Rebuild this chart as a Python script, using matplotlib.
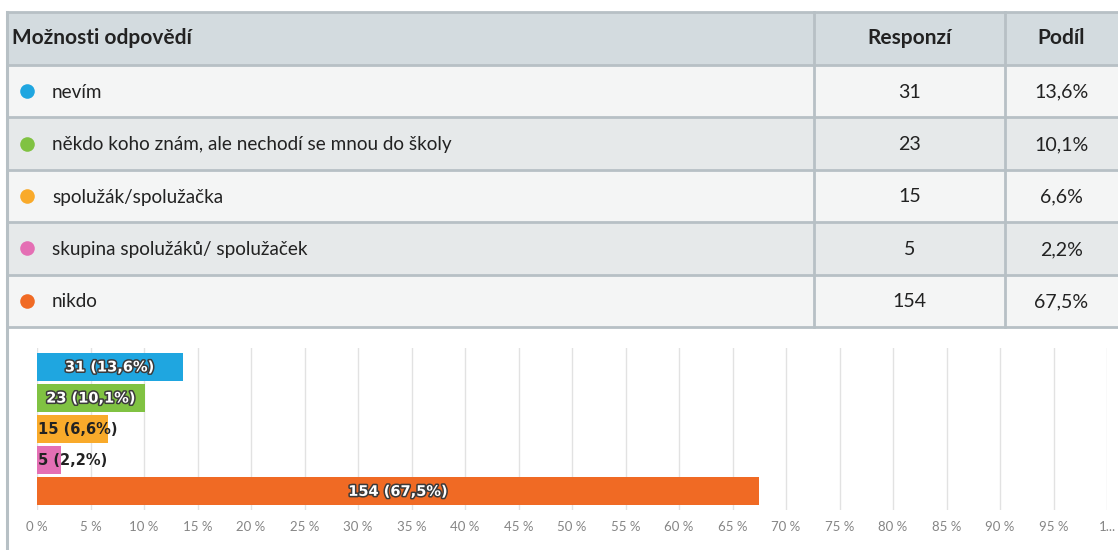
import matplotlib.pyplot as plt
import matplotlib.patheffects as pe
import numpy as np

# Survey data
options = ['nevím', 'někdo koho znám, ale nechodí se mnou do školy',
           'spolužák/spolužačka', 'skupina spolužáků/ spolužaček', 'nikdo']
counts = [31, 23, 15, 5, 154]
shares = [13.6, 10.1, 6.6, 2.2, 67.5]
colors = ['#1fa6e0', '#80c242', '#f9aa2a', '#e46fb4', '#f06a24']
headers = ['Možnosti odpovědí', 'Responzí', 'Podíl']

W, H = 1118, 550
table_font = ['Lato', 'DejaVu Sans']

fig = plt.figure(figsize=(W / 100, H / 100), dpi=100)
fig.patch.set_facecolor('white')

# background axes in pixel coordinates for the table
bg = fig.add_axes([0, 0, 1, 1])
bg.set_xlim(0, W)
bg.set_ylim(H, 0)
bg.axis('off')

left, top = 7, 12
head_h, row_h = 53, 52.4
col1, col2 = 814, 1005
border = '#b7c0c5'

bg.add_patch(plt.Rectangle((left, top), W - left, head_h, color='#d3dbdf', lw=0))
for i in range(len(options)):
    y0 = top + head_h + i * row_h
    fc = '#f4f5f5' if i % 2 == 0 else '#e6e9ea'
    bg.add_patch(plt.Rectangle((left, y0), W - left, row_h, color=fc, lw=0))

table_bottom = top + head_h + len(options) * row_h
for k in range(len(options) + 2):
    y = top if k == 0 else top + head_h + (k - 1) * row_h
    bg.plot([left, W], [y, y], color=border, lw=2)
bg.plot([left, left], [top, H], color=border, lw=2.2)
for x in [col1, col2]:
    bg.plot([x, x], [top, table_bottom], color=border, lw=2)

# header
hy = top + head_h / 2
hfs, rfs = 15, 13.6
bg.text(12, hy, headers[0], family=table_font, fontsize=hfs, weight='bold', color='#222', va='center')
bg.text((col1 + col2) / 2, hy, headers[1], family=table_font, fontsize=hfs, weight='bold', color='#222',
        va='center', ha='center')
bg.text((col2 + W) / 2, hy, headers[2], family=table_font, fontsize=hfs, weight='bold', color='#222',
        va='center', ha='center')

# rows
for i, (opt, c, s, col) in enumerate(zip(options, counts, shares, colors)):
    cy = top + head_h + (i + 0.5) * row_h
    bg.plot(27, cy, 'o', color=col, markersize=10.5, markeredgewidth=0)
    bg.text(52, cy + 1, opt, family=table_font, fontsize=rfs, color='#222', va='center')
    bg.text((col1 + col2) / 2, cy + 1, str(c), family=table_font, fontsize=rfs + 0.5, color='#222',
            va='center', ha='center')
    bg.text((col2 + W) / 2, cy + 1, f'{s:.1f}%'.replace('.', ','), family=table_font, fontsize=rfs + 0.5,
            color='#222', va='center', ha='center')

# bar chart
ax = fig.add_axes([37 / W, 1 - 510 / H, 1070 / W, 162 / H])
ax.set_facecolor('none')
y = np.arange(len(options))
ax.barh(y, shares, height=0.9, color=colors, zorder=2)
ax.set_xlim(0, 100)
ax.set_ylim(4.6, -0.61)
ticks = np.arange(0, 101, 5)
ax.set_xticks(ticks)
ax.set_xticklabels([f'{t} %' for t in ticks[:-1]] + ['1...'], family=table_font)
ax.tick_params(axis='x', length=0, pad=8, labelsize=9.5, labelcolor='#858585')
ax.set_yticks([])
ax.grid(axis='x', color='#e2e2e2', lw=1, zorder=0)
for sp in ax.spines.values():
    sp.set_visible(False)

for i, (c, s) in enumerate(zip(counts, shares)):
    label = f'{c} ({s:.1f}%)'.replace('.', ',')
    if s >= 8:
        ax.text(s / 2, i, label, ha='center', va='center', fontsize=10.5, weight='bold', color='white',
                zorder=3, path_effects=[pe.withStroke(linewidth=2.2, foreground='#3a3a3a')])
    else:
        ax.text(0.1, i, label, ha='left', va='center', fontsize=10.5, weight='bold', color='#222',
                zorder=3)

plt.savefig('out.png', dpi=100)
